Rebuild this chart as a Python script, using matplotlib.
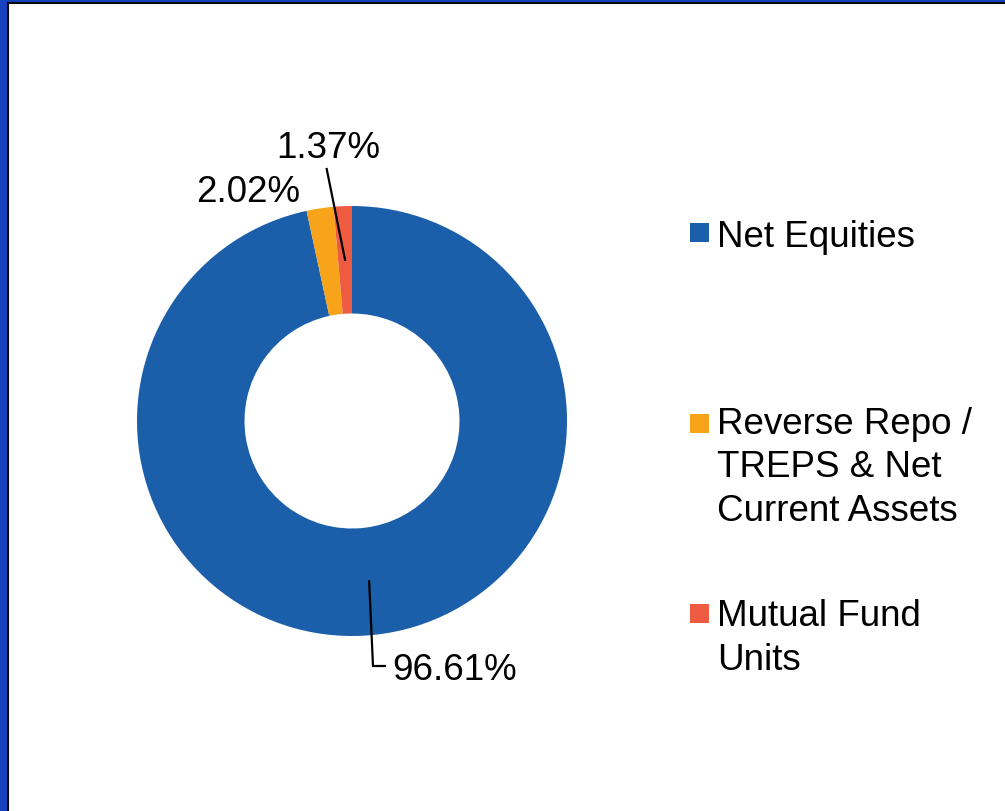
import numpy as np
import matplotlib
matplotlib.use("Agg")
import matplotlib.pyplot as plt
from matplotlib.patches import Rectangle
from matplotlib.lines import Line2D

# ---- data ----
categories = ["Net Equities", "Reverse Repo /\nTREPS & Net\nCurrent Assets", "Mutual Fund\nUnits"]
values = [96.61, 2.02, 1.37]
value_labels = ["96.61%", "2.02%", "1.37%"]
colors = ["#1B5EA9", "#F8A41B", "#EF5B41"]

W, H = 1005, 812
fig = plt.figure(figsize=(W / 100, H / 100), dpi=100)
fig.patch.set_facecolor("white")
FONT = "Liberation Sans"
FS = 26.5

# pie axes: center (352, 422) px, radius 215 px
cx, cy, R = 352, 422, 215
half = 300
ax = fig.add_axes([(cx - half) / W, (H - cy - half) / H, 2 * half / W, 2 * half / H])
wedges, _ = ax.pie(values, colors=colors, startangle=90, counterclock=False,
                   radius=1.0, wedgeprops=dict(width=0.5, linewidth=0))
L = half / R
ax.set_xlim(-L, L)
ax.set_ylim(-L, L)
ax.axis("off")

def mid_point(w, r=0.75):
    ang = np.deg2rad((w.theta1 + w.theta2) / 2)
    return r * np.cos(ang), r * np.sin(ang)

def d(px, py):
    return (px - cx) / R, (cy - py) / R

# 96.61% label
mx, my = mid_point(wedges[0])
p1 = d(373, 667); p2 = d(385, 667)
ax.plot([mx, p1[0], p2[0]], [my, p1[1], p2[1]], color="black", lw=1.6, solid_joinstyle="miter")
tx, ty = d(392, 680)
ax.text(tx, ty, value_labels[0], ha="left", va="baseline", fontsize=FS, family=FONT)

# 2.02% label
tx, ty = d(248.5, 202)
ax.text(tx, ty, value_labels[1], ha="center", va="baseline", fontsize=FS, family=FONT)

# 1.37% label
mx, my = mid_point(wedges[2])
p1 = d(326.7, 170)
ax.plot([mx, p1[0]], [my, p1[1]], color="black", lw=1.6)
tx, ty = d(328, 158)
ax.text(tx, ty, value_labels[2], ha="center", va="baseline", fontsize=FS, family=FONT)

# ---- legend (manual placement) ----
sq = 19
leg_last_baselines = [247, 521, 670]
sq_centers = [233, 424, 614]
for lab, col, base, sc in zip(categories, colors, leg_last_baselines, sq_centers):
    fig.patches.append(Rectangle((690 / W, (H - sc - sq / 2) / H), sq / W, sq / H,
                                 transform=fig.transFigure, facecolor=col, edgecolor="none"))
    fig.text(717 / W, (H - base) / H, lab, ha="left", va="baseline", fontsize=FS,
             family=FONT, linespacing=1.32)

# ---- frame ----
frame_blue = "#1543BE"
fig.patches.append(Rectangle((0, 0), 7 / W, 1, transform=fig.transFigure,
                             facecolor=frame_blue, edgecolor="none"))
fig.patches.append(Rectangle((0, 1 - 3 / H), 1, 3 / H, transform=fig.transFigure,
                             facecolor=frame_blue, edgecolor="none"))
fig.lines.append(Line2D([8 / W, 8 / W, 1], [0, 1 - 4 / H, 1 - 4 / H], transform=fig.transFigure,
                        color="#0a0a0a", lw=1.5, solid_joinstyle="miter"))

fig.savefig("out.png", dpi=100, facecolor="white")
